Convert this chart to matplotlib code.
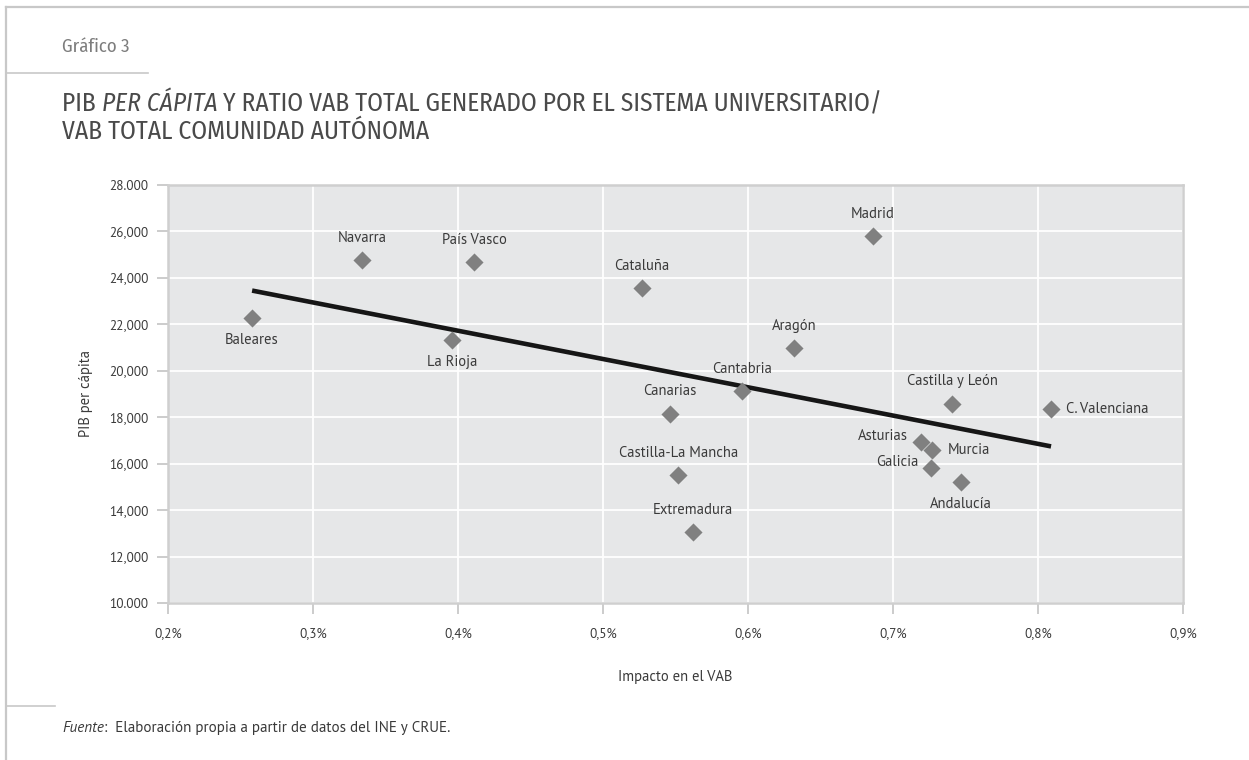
import numpy as np
import matplotlib.pyplot as plt
from matplotlib.lines import Line2D

regiones = ["Baleares", "Navarra", "País Vasco", "La Rioja", "Cataluña", "Madrid",
            "Aragón", "Cantabria", "Castilla y León", "Canarias", "Castilla-La Mancha",
            "Extremadura", "Asturias", "Murcia", "Galicia", "Andalucía", "C. Valenciana"]
impacto_vab = [0.258, 0.334, 0.411, 0.396, 0.527, 0.686,
               0.632, 0.596, 0.741, 0.546, 0.552,
               0.562, 0.719, 0.727, 0.726, 0.747, 0.809]
pib_per_capita = [22250, 24750, 24660, 21300, 23550, 25790,
                  20970, 19100, 18580, 18150, 15500,
                  13060, 16930, 16560, 15820, 15200, 18360]
# where each label sits relative to its marker
posicion = ["below", "above", "above", "below", "above", "above",
            "above", "above", "above", "above", "above",
            "above", "left", "right", "left", "below", "right"]

x_ticks = [0.2, 0.3, 0.4, 0.5, 0.6, 0.7, 0.8, 0.9]
x_labels = ["0,2%", "0,3%", "0,4%", "0,5%", "0,6%", "0,7%", "0,8%", "0,9%"]
y_ticks = [10000, 12000, 14000, 16000, 18000, 20000, 22000, 24000, 26000, 28000]
y_labels = ["10.000", "12,000", "14,000", "16,000", "18,000", "20,000",
            "22,000", "24,000", "26,000", "28.000"]

TXT = "#3a3a3a"
FONT = ["PT Sans", "Lato", "DejaVu Sans"]
NARROW = ["Fira Sans Condensed", "PT Sans", "DejaVu Sans"]
plt.rcParams["font.family"] = FONT

fig = plt.figure(figsize=(12.49, 7.6), dpi=100)
ax = fig.add_axes([168 / 1249, 1 - 603 / 760, 1015 / 1249, 418.5 / 760])
ax.set_facecolor("#e6e7e8")

x = np.array(impacto_vab)
y = np.array(pib_per_capita)
ax.scatter(x, y, marker="D", s=85, color="#808080", zorder=3, linewidths=0)

# linear trend
m, b = np.polyfit(x, y, 1)
xt = np.array([x.min(), x.max()])
ax.plot(xt, m * xt + b, color="#161616", lw=3.3, zorder=2, solid_capstyle="butt")

offsets = {"above": (0, 16, "center", "center"), "below": (0, -16, "center", "center"),
           "left": (-9, 4, "right", "center"), "right": (11, 0, "left", "center")}
for name, xi, yi, p in zip(regiones, impacto_vab, pib_per_capita, posicion):
    dx, dy, ha, va = offsets[p]
    ax.annotate(name, (xi, yi), xytext=(dx, dy), textcoords="offset points",
                ha=ha, va=va, fontsize=10.5, color=TXT, zorder=4)

ax.set_xlim(0.2, 0.9)
ax.set_ylim(10000, 28000)
ax.set_xticks(x_ticks)
ax.set_xticklabels(x_labels)
ax.set_yticks(y_ticks)
ax.set_yticklabels(y_labels)
ax.grid(True, color="white", lw=1.3)
ax.set_axisbelow(True)
ax.tick_params(axis="both", direction="out", length=8, width=1.2, color="#c4c4c4",
               labelsize=9.5, labelcolor=TXT)
ax.tick_params(axis="x", pad=9)
ax.tick_params(axis="y", pad=6)
for s in ax.spines.values():
    s.set_color("#cfcfcf")
    s.set_linewidth(1.8)

ax.set_xlabel("Impacto en el VAB", fontsize=10.5, color=TXT, labelpad=22)
ax.set_ylabel("PIB per cápita", fontsize=10.5, color=TXT, labelpad=12)

# page frame
frame = "#c8c8c8"
fig.add_artist(Line2D([6 / 1249, 1], [1 - 7 / 760] * 2, color=frame, lw=1.6))
fig.add_artist(Line2D([6 / 1249] * 2, [0, 1 - 7 / 760], color=frame, lw=1.6))
fig.add_artist(Line2D([6 / 1249, 148 / 1249], [1 - 73 / 760] * 2, color=frame, lw=1.2))
fig.add_artist(Line2D([6 / 1249, 55 / 1249], [1 - 706 / 760] * 2, color=frame, lw=1.2))

TIT = "#4a4a4a"
TS = 18.3
fig.text(62 / 1249, 1 - 47 / 760, "Gráfico 3", fontsize=13.5, color="#7d7d7d",
         va="center", family=NARROW)
fig.canvas.draw()
r = fig.canvas.get_renderer()
t1 = fig.text(62 / 1249, 1 - 104 / 760, "PIB ", fontsize=TS, color=TIT, va="center",
              family=NARROW)
bb = t1.get_window_extent(r)
t2 = fig.text(bb.x1 / fig.bbox.width, 1 - 104 / 760, "PER CÁPITA", fontsize=TS,
              color=TIT, va="center", family=NARROW, style="italic")
bb2 = t2.get_window_extent(r)
fig.text(bb2.x1 / fig.bbox.width, 1 - 104 / 760,
         " Y RATIO VAB TOTAL GENERADO POR EL SISTEMA UNIVERSITARIO/", fontsize=TS,
         color=TIT, va="center", family=NARROW)
fig.text(62 / 1249, 1 - 132 / 760, "VAB TOTAL COMUNIDAD AUTÓNOMA", fontsize=TS,
         color=TIT, va="center", family=NARROW)

f1 = fig.text(62 / 1249, 1 - 728 / 760, "Fuente", fontsize=10.9, color=TXT,
              va="center", style="italic")
bb3 = f1.get_window_extent(r)
fig.text(bb3.x1 / fig.bbox.width, 1 - 728 / 760,
         ":  Elaboración propia a partir de datos del INE y CRUE.", fontsize=10.9,
         color=TXT, va="center")

fig.savefig("out.png", dpi=100)
